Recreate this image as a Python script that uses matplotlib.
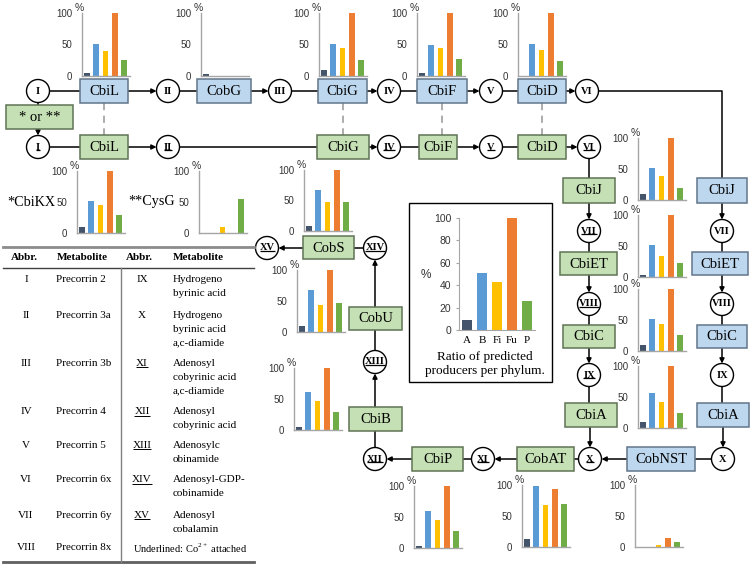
import numpy as np
import matplotlib
matplotlib.use("Agg")
import matplotlib.pyplot as plt
from matplotlib.patches import Rectangle, Circle


# ============================================================
# DATA (percent of predicted producers per phylum)
# ============================================================

phyla = ["A", "B", "Fi", "Fu", "P"]
phylum_ratio = [9, 51, 43, 100, 26]

cbiL = [4, 51, 40, 100, 26]
cobG = [3, 0, 0, 0, 0]
cbiG = [9, 51, 44, 100, 26]
cbiF = [4, 49, 44, 100, 27]
cbiD = [0, 51, 42, 100, 24]
cbiKX = [9, 51, 45, 100, 29]
cysG = [0, 0, 10, 0, 55]
cobS = [9, 68, 47, 100, 47]
cobU = [9, 68, 43, 100, 47]
cbiB = [5, 61, 46, 100, 29]
cbiP = [4, 60, 45, 100, 27]
cobAT = [13, 98, 68, 93, 69]
cobNST = [0, 0, 3, 14, 8]
cbiJ = [9, 51, 38, 100, 19]
cbiET = [4, 51, 34, 100, 23]
cbiC = [9, 51, 43, 100, 26]
cbiA = [9, 57, 42, 100, 24]

abbr_left = ["I", "II", "III", "IV", "V", "VI", "VII", "VIII"]
metab_left = ["Precorrin 2", "Precorrin 3a", "Precorrin 3b", "Precorrin 4",
              "Precorrin 5", "Precorrin 6x", "Precorrin 6y", "Precorrin 8x"]
abbr_right = ["IX", "X", "XI", "XII", "XIII", "XIV", "XV"]
metab_right = [
    ["Hydrogeno", "byrinic acid"],
    ["Hydrogeno", "byrinic acid", "a,c-diamide"],
    ["Adenosyl", "cobyrinic acid", "a,c-diamide"],
    ["Adenosyl", "cobyrinic acid"],
    ["Adenosylc", "obinamide"],
    ["Adenosyl-GDP-", "cobinamide"],
    ["Adenosyl", "cobalamin"],
]
underlined_right = [False, False, True, True, True, True, True]


# ============================================================
# STYLE / LAYOUT (pixel coordinates, origin top-left)
# ============================================================

W, H = 754, 565
SERIF = "Liberation Serif"
BAR_COLORS = ["#44546A", "#5B9BD5", "#FFC000", "#ED7D31", "#70AD47"]
BLUE_FILL, BLUE_EDGE = "#BDD7EE", "#62758A"
GREEN_FILL, GREEN_EDGE = "#C5E0B4", "#5F7355"
AXIS_GREY = "#A6A6A6"
TICK_GREY = "#333333"
R = 11.5

plt.rcParams.update({
    "font.family": "Liberation Sans",
    "mathtext.fontset": "custom",
    "mathtext.rm": SERIF,
})

# (values, y-axis x, top of 100, baseline)
chart_layout = [
    (cbiL, 82, 13, 76), (cobG, 201, 13, 76), (cbiG, 319, 13, 76),
    (cbiF, 417, 13, 76), (cbiD, 518, 13, 76),
    (cbiKX, 77, 171, 233), (cysG, 199, 171, 233),
    (cobS, 304, 170, 231), (cobU, 297, 270, 332), (cbiB, 294, 368, 430),
    (cbiP, 414, 486, 548), (cobAT, 522, 485, 547), (cobNST, 635, 485, 547),
    (cbiJ, 638, 138, 200), (cbiET, 638, 215, 277), (cbiC, 638, 289, 351),
    (cbiA, 638, 366, 428),
]

blue_boxes = [
    ("CbiL", 80, 128, 79, 103), ("CobG", 197, 251, 79, 103),
    ("CbiG", 318, 367, 79, 103), ("CbiF", 417, 467, 79, 103),
    ("CbiD", 518, 566, 79, 103),
    ("CbiJ", 697, 747, 178, 203), ("CbiET", 692, 748, 252, 275),
    ("CbiC", 697, 747, 325, 348), ("CbiA", 697, 749, 403, 427),
    ("CobNST", 627, 695, 447, 471),
]
green_boxes = [
    ("* or **", 6, 73, 105, 129), ("CbiL", 80, 128, 135, 159),
    ("CbiG", 317, 369, 135, 159), ("CbiF", 419, 457, 135, 159),
    ("CbiD", 518, 566, 135, 159),
    ("CbiJ", 563, 615, 178, 203), ("CbiET", 560, 617, 252, 275),
    ("CbiC", 563, 615, 325, 348), ("CbiA", 565, 617, 403, 427),
    ("CobAT", 517, 574, 447, 471), ("CbiP", 412, 463, 447, 471),
    ("CbiB", 349, 402, 407, 431), ("CobU", 349, 402, 307, 330),
    ("CobS", 303, 354, 236, 259),
]
circles = [
    ("I", 38, 91, False), ("II", 168, 91, False), ("III", 280, 91, False),
    ("IV", 389, 91, False), ("V", 491, 91, False), ("VI", 587, 91, False),
    ("I", 38, 147, True), ("II", 168, 147, True), ("IV", 389, 147, True),
    ("V", 491, 147, True), ("VI", 589, 147, True),
    ("VII", 589, 231, True), ("VIII", 589, 304, True), ("IX", 589, 375, True),
    ("X", 590, 459, True),
    ("VII", 722, 231, False), ("VIII", 722, 304, False),
    ("IX", 722, 375, False), ("X", 723, 459, False),
    ("XI", 483, 459, True), ("XII", 375, 459, True), ("XIII", 375, 362, True),
    ("XIV", 375, 248, True), ("XV", 267, 248, True),
]


# ============================================================
# HELPERS
# ============================================================

fig = plt.figure(figsize=(W / 100, H / 100), dpi=100)
ax = fig.add_axes([0, 0, 1, 1])
ax.set_xlim(0, W)
ax.set_ylim(H, 0)
ax.axis("off")
renderer = fig.canvas.get_renderer()


def underline(txt, lw=0.9, lift=1.5):
    bb = txt.get_window_extent(renderer=renderer)
    inv = ax.transData.inverted()
    (xa, ya), (xb, _) = inv.transform([(bb.x0, bb.y0), (bb.x1, bb.y0)])
    ax.plot([xa, xb], [ya - lift, ya - lift], color="black", lw=lw,
            solid_capstyle="butt", zorder=3)


def line(xs, ys):
    ax.plot(xs, ys, color="black", lw=1.1, solid_capstyle="butt", zorder=1)


def arrow(x1, y1, x2, y2):
    ax.annotate("", xy=(x2, y2), xytext=(x1, y1),
                arrowprops=dict(arrowstyle="-|>", color="black", lw=1.1,
                                mutation_scale=7, shrinkA=0, shrinkB=0),
                zorder=1)


def box(name, x0, x1, y0, y1, fill, edge):
    ax.add_patch(Rectangle((x0, y0), x1 - x0, y1 - y0, facecolor=fill,
                           edgecolor=edge, lw=1.1, zorder=2))
    ax.text((x0 + x1) / 2, (y0 + y1) / 2 + 0.5, name, ha="center",
            va="center", family=SERIF, fontsize=10.5, zorder=3)


def node(label, x, y, under):
    ax.add_patch(Circle((x, y), R, facecolor="white", edgecolor="black",
                        lw=1, zorder=2))
    t = ax.text(x, y, label, ha="center", va="center", family=SERIF,
                fontsize=7.5, fontweight="bold", zorder=3)
    if under:
        underline(t)


def mini_chart(values, x0, top, base, width=48):
    cax = fig.add_axes([x0 / W, 1 - base / H, width / W, (base - top) / H])
    cax.bar(range(len(values)), values, width=0.62, color=BAR_COLORS)
    cax.set_xlim(-0.5, 4.6)
    cax.set_ylim(0, 100)
    cax.set_yticks([0, 50, 100])
    cax.set_xticks([])
    cax.tick_params(axis="y", length=0, pad=7, labelsize=7,
                    labelcolor=TICK_GREY)
    for s in ["top", "right"]:
        cax.spines[s].set_visible(False)
    for s in ["left", "bottom"]:
        cax.spines[s].set_color(AXIS_GREY)
        cax.spines[s].set_linewidth(1)
    cax.patch.set_alpha(0)
    ax.text(x0 - 3, top - 5, "%", ha="center", va="center", fontsize=7.5,
            color=TICK_GREY)


# ============================================================
# CONNECTORS
# ============================================================

# upper (blue) pathway
line([38 + R, 80], [91, 91])
arrow(128, 91, 168 - R, 91)
line([168 + R, 197], [91, 91])
arrow(251, 91, 280 - R, 91)
line([280 + R, 318], [91, 91])
arrow(367, 91, 389 - R, 91)
line([389 + R, 417], [91, 91])
arrow(467, 91, 491 - R, 91)
line([491 + R, 518], [91, 91])
arrow(566, 91, 587 - R, 91)
line([587 + R, 722, 722], [91, 91, 178])

# lower (green) pathway
line([38, 38], [91 + R, 105])
arrow(38, 129, 38, 147 - R)
line([38 + R, 80], [147, 147])
arrow(128, 147, 168 - R, 147)
line([168 + R, 317], [147, 147])
arrow(369, 147, 389 - R, 147)
line([389 + R, 419], [147, 147])
arrow(457, 147, 491 - R, 147)
line([491 + R, 518], [147, 147])
arrow(566, 147, 589 - R, 147)
line([589, 589], [147 + R, 178])

# homologous enzymes
for xd in [104, 343, 442, 542]:
    ax.plot([xd, xd], [103, 135], color="#A6A6A6", lw=1.3,
            linestyle=(0, (4, 3)), zorder=1)

# vertical columns
for xc, xe in [(589, 590), (722, 723)]:
    arrow(xc, 203, xc, 231 - R)
    line([xc, xc], [231 + R, 252])
    arrow(xc, 275, xc, 304 - R)
    line([xc, xc], [304 + R, 325])
    arrow(xc, 348, xc, 375 - R)
    line([xc, xc], [375 + R, 403])
    arrow(xe, 427, xe, 459 - R)

# bottom row and return column
line([723 - R, 695], [459, 459])
arrow(627, 459, 590 + R, 459)
line([590 - R, 574], [459, 459])
arrow(517, 459, 483 + R, 459)
line([483 - R, 463], [459, 459])
arrow(412, 459, 375 + R, 459)
line([375, 375], [459 - R, 431])
arrow(375, 407, 375, 362 + R)
line([375, 375], [362 - R, 330])
arrow(375, 307, 375, 248 + R)
line([375 - R, 354], [248, 248])
arrow(303, 248, 267 + R, 248)

# ============================================================
# BOXES AND NODES
# ============================================================

for b in blue_boxes:
    box(*b, BLUE_FILL, BLUE_EDGE)
for b in green_boxes:
    box(*b, GREEN_FILL, GREEN_EDGE)
for c in circles:
    node(*c)

ax.text(7, 202, "*CbiKX", ha="left", va="center", family=SERIF, fontsize=10.2)
ax.text(128, 202, "**CysG", ha="left", va="center", family=SERIF,
        fontsize=10.2)

# ============================================================
# MINI BAR CHARTS
# ============================================================

for vals, x0, top, base in chart_layout:
    mini_chart(vals, x0, top, base)

# ============================================================
# PHYLUM RATIO PANEL
# ============================================================

ax.add_patch(Rectangle((409, 203), 143, 179, facecolor="white",
                       edgecolor="black", lw=1, zorder=2))
lax = fig.add_axes([459 / W, 1 - 330 / H, 76 / W, 112 / H])
lax.bar(range(len(phylum_ratio)), phylum_ratio, width=0.67, color=BAR_COLORS)
lax.set_xlim(-0.55, 4.55)
lax.set_ylim(0, 100)
lax.set_yticks(np.arange(0, 101, 20))
lax.set_xticks(range(len(phyla)))
lax.set_xticklabels(phyla, family=SERIF, fontsize=8)
lax.tick_params(axis="y", length=2.5, color=AXIS_GREY, pad=3, labelsize=7.5,
                labelcolor=TICK_GREY)
lax.tick_params(axis="x", length=0, pad=4)
for s in ["top", "right"]:
    lax.spines[s].set_visible(False)
for s in ["left", "bottom"]:
    lax.spines[s].set_color(AXIS_GREY)
lax.patch.set_alpha(0)
ax.text(426, 275, "%", ha="center", va="center", fontsize=8.5,
        color=TICK_GREY, zorder=3)
ax.text(485, 357, "Ratio of predicted", ha="center", va="center",
        family=SERIF, fontsize=9.5, zorder=3)
ax.text(485, 371, "producers per phylum.", ha="center", va="center",
        family=SERIF, fontsize=9.5, zorder=3)

# ============================================================
# METABOLITE TABLE
# ============================================================

ax.plot([3, 254], [247, 247], color="#8C8C8C", lw=2)
ax.plot([3, 254], [268, 268], color="#404040", lw=1)
ax.plot([3, 254], [562, 562], color="#606060", lw=2)
ax.plot([121, 121], [268, 562], color="#808080", lw=1)

for xh, txt, ha in [(24, "Abbr.", "center"), (57, "Metabolite", "left"),
                    (139, "Abbr.", "center"), (173, "Metabolite", "left")]:
    ax.text(xh, 258, txt, ha=ha, va="center", family=SERIF, fontsize=8,
            fontweight="bold")

left_rows = [279, 315, 363, 412, 445, 480, 515, 548]
for yy, ab, met in zip(left_rows, abbr_left, metab_left):
    ax.text(26, yy, ab, ha="center", va="center", family=SERIF, fontsize=8)
    ax.text(56, yy, met, ha="left", va="center", family=SERIF, fontsize=8)

for yy, ab, lines_, und in zip(left_rows[:7], abbr_right, metab_right,
                               underlined_right):
    t = ax.text(142, yy, ab, ha="center", va="center", family=SERIF,
                fontsize=8)
    if und:
        underline(t, lw=0.7, lift=1.0)
    for k, ln in enumerate(lines_):
        ax.text(173, yy + 14 * k, ln, ha="left", va="center", family=SERIF,
                fontsize=8)

ax.text(133, 548, r"Underlined: Co$^{2+}$ attached", ha="left", va="center",
        family=SERIF, fontsize=7.5)

fig.savefig("out.png", dpi=100)
